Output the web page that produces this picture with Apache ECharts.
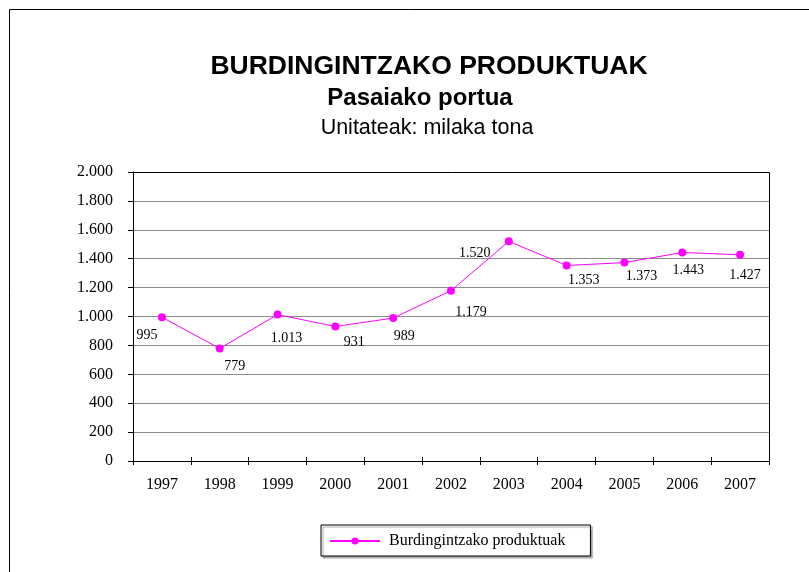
<!DOCTYPE html>
<html>
<head>
<meta charset="utf-8">
<script src="https://cdn.jsdelivr.net/npm/echarts@6/dist/echarts.min.js"></script>
<style>
  html, body { margin: 0; padding: 0; background: #fff; }
  #chart { width: 809px; height: 572px; }
</style>
</head>
<body>
<div id="chart"></div>
<script>
  // --- Data ---
  var YEARS = ['1997', '1998', '1999', '2000', '2001', '2002', '2003', '2004', '2005', '2006', '2007'];
  var VALUES = [995, 779, 1013, 931, 989, 1179, 1520, 1353, 1373, 1443, 1427];
  var SERIES_NAME = 'Burdingintzako produktuak';

  // label offsets [dx, dy] relative to each point (style only)
  var LABEL_OFFSETS = [[-15, 18], [15, 18], [9, 24], [19, 16], [11, 18], [20, 22],
                       [-34, 12], [17, 15], [17, 14], [6, 18], [5, 21]];

  var SERIF = '"Liberation Serif", "DejaVu Serif", serif';
  var SANS = '"Liberation Sans", Arial, sans-serif';

  function fmtNum(v) {
    return String(v).replace(/\B(?=(\d{3})+(?!\d))/g, '.');
  }

  var seriesData = VALUES.map(function(v, i) {
    return {
      value: v,
      label: { offset: LABEL_OFFSETS[i] }
    };
  });

  var chart = echarts.init(document.getElementById('chart'), null, { renderer: 'canvas' });
  chart.setOption({
    backgroundColor: '#fff',
    animation: false,
    title: [
      { text: 'BURDINGINTZAKO PRODUKTUAK', left: 424, top: 48, textAlign: 'center',
        textStyle: { fontFamily: SANS, fontSize: 26.5, fontWeight: 'bold', color: '#000' } },
      { text: 'Pasaiako portua', left: 415, top: 81, textAlign: 'center',
        textStyle: { fontFamily: SANS, fontSize: 24, fontWeight: 'bold', color: '#000' } },
      { text: 'Unitateak: milaka tona', left: 422, top: 112, textAlign: 'center',
        textStyle: { fontFamily: SANS, fontSize: 21.5, fontWeight: 'normal', color: '#000' } }
    ],
    graphic: [
      { type: 'rect', shape: { x: 9.5, y: 9.5, width: 820, height: 600 },
        style: { fill: 'none', stroke: '#000', lineWidth: 1 }, silent: true },
      // frame around plot area (top + right)
      { type: 'rect', shape: { x: 133.5, y: 172.5, width: 636, height: 289 },
        style: { fill: 'none', stroke: '#000', lineWidth: 1 }, silent: true, z: 10 }
    ],
    grid: { left: 133, top: 172, width: 636, height: 289, containLabel: false },
    legend: {
      data: [SERIES_NAME],
      left: 321, top: 525,
      itemWidth: 50, itemHeight: 9, itemGap: 10,
      padding: [8, 25, 7, 8],
      borderColor: '#000', borderWidth: 1,
      shadowColor: 'rgba(0,0,0,0.35)', shadowOffsetX: 2, shadowOffsetY: 2, shadowBlur: 1,
      backgroundColor: '#fff',
      textStyle: { fontFamily: SERIF, fontSize: 16, color: '#000', padding: [0, 0, 0, 4] }
    },
    xAxis: [{
      type: 'category',
      data: YEARS,
      boundaryGap: true,
      axisLine: { lineStyle: { color: '#000', width: 1 } },
      axisTick: { show: true, inside: false, length: 4, lineStyle: { color: '#000' } },
      axisLabel: { fontFamily: SERIF, fontSize: 16, color: '#000', margin: 16 },
      splitLine: { show: false }
    }, {
      // inner half of the crossing ticks
      type: 'category',
      data: YEARS,
      position: 'bottom',
      boundaryGap: true,
      axisLine: { show: false },
      axisTick: { show: true, inside: true, length: 4, lineStyle: { color: '#000' } },
      axisLabel: { show: false },
      splitLine: { show: false }
    }],
    yAxis: [{
      type: 'value',
      min: 0, max: 2000, interval: 200,
      axisLine: { show: true, lineStyle: { color: '#000', width: 1 } },
      axisTick: { show: true, inside: false, length: 5, lineStyle: { color: '#000' } },
      axisLabel: { fontFamily: SERIF, fontSize: 16, color: '#000', margin: 20, formatter: fmtNum },
      splitLine: { show: true, lineStyle: { color: '#8c8c8c', width: 1 } }
    }],
    series: [{
      name: SERIES_NAME,
      type: 'line',
      data: seriesData,
      symbol: 'circle',
      symbolSize: 8,
      color: '#ff00ff',
      lineStyle: { color: '#ff00ff', width: 1 },
      itemStyle: { color: '#ff00ff' },
      label: {
        show: true,
        position: 'inside',
        fontFamily: SERIF,
        fontSize: 14,
        color: '#000',
        formatter: function(p) { return fmtNum(p.value); }
      }
    }]
  });
</script>
</body>
</html>
